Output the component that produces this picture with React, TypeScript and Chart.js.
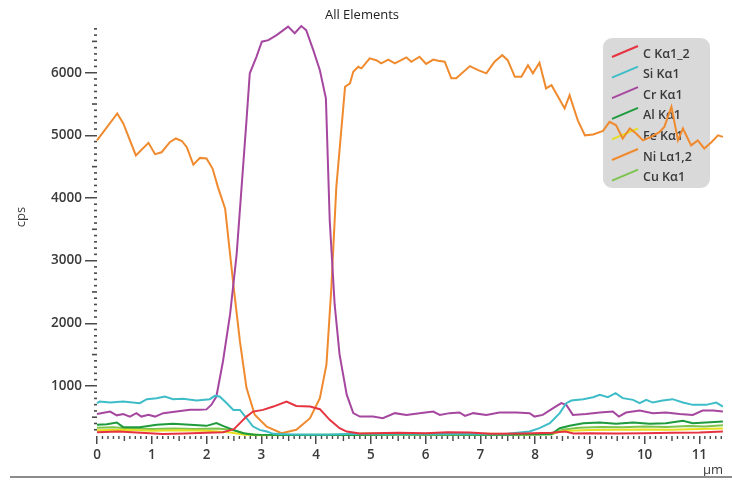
import React, { useEffect, useRef } from "react";
import { Chart, registerables } from "chart.js";

Chart.register(...registerables);

// ---- data (position in µm, counts per second) ----
const seriesNames = ["C Kα1_2", "Si Kα1", "Cr Kα1", "Al Kα1", "Fe Kα1", "Ni Lα1,2", "Cu Kα1"];
const seriesColors = ["#e63340", "#3ebdc8", "#a6479f", "#1f9b3d", "#e6df1e", "#f08a2e", "#7cc44c"];

const cProfile = [
  [0, 260], [0.4, 270], [0.8, 250], [1.2, 230], [1.6, 240], [2.0, 250], [2.3, 260], [2.5, 310],
  [2.61, 405], [2.73, 510], [2.85, 590], [3.03, 617], [3.22, 670], [3.46, 750], [3.64, 680],
  [3.89, 670], [4.07, 628], [4.25, 458], [4.43, 325], [4.56, 271], [4.8, 240], [5.5, 250],
  [6.0, 245], [6.4, 260], [6.8, 255], [7.2, 235], [7.8, 240], [8.3, 250], [8.55, 270], [8.7, 240],
  [9.0, 245], [9.5, 240], [10.0, 245], [10.5, 250], [11.0, 255], [11.43, 270],
];

const siProfile = [
  [0, 724], [0.05, 750], [0.24, 735], [0.48, 750], [0.78, 724], [0.91, 788], [1.09, 804], [1.24, 830],
  [1.39, 788], [1.57, 793], [1.82, 766], [2.06, 788], [2.15, 840], [2.24, 830], [2.37, 724],
  [2.49, 617], [2.61, 617], [2.73, 485], [2.85, 351], [2.97, 298], [3.1, 271], [3.22, 234],
  [3.6, 225], [4.2, 225], [4.6, 230], [5.5, 235], [6.5, 230], [7.5, 235], [7.9, 271], [8.08, 325],
  [8.27, 405], [8.45, 565], [8.57, 724], [8.66, 766], [8.88, 788], [9.06, 820], [9.18, 856],
  [9.33, 820], [9.47, 883], [9.6, 804], [9.79, 777], [9.91, 724], [10.03, 777], [10.15, 734],
  [10.33, 766], [10.51, 788], [10.7, 734], [10.88, 697], [11.12, 697], [11.31, 734], [11.43, 670],
];

const crProfile = [
  [0, 550], [0.24, 590], [0.36, 530], [0.48, 550], [0.6, 510], [0.72, 565], [0.81, 510], [0.94, 540],
  [1.06, 510], [1.21, 565], [1.45, 590], [1.7, 620], [1.88, 620], [2.0, 625], [2.09, 700], [2.18, 830],
  [2.3, 1390], [2.43, 2140], [2.55, 3100], [2.64, 4170], [2.73, 5240], [2.79, 5990], [2.91, 6250],
  [3.01, 6495], [3.13, 6520], [3.28, 6600], [3.49, 6735], [3.61, 6630], [3.73, 6745], [3.82, 6680],
  [3.95, 6360], [4.07, 6040], [4.18, 5590], [4.25, 3640], [4.34, 2300], [4.43, 1500], [4.56, 860],
  [4.68, 565], [4.8, 510], [5.04, 510], [5.22, 485], [5.44, 565], [5.65, 537], [5.89, 565],
  [6.14, 590], [6.26, 537], [6.44, 565], [6.62, 575], [6.72, 521], [6.87, 565], [7.11, 537],
  [7.35, 575], [7.66, 575], [7.9, 565], [7.99, 510], [8.14, 537], [8.33, 644], [8.48, 724],
  [8.57, 697], [8.69, 537], [8.93, 553], [9.18, 575], [9.42, 590], [9.53, 510], [9.66, 575],
  [9.91, 606], [10.15, 565], [10.39, 575], [10.64, 553], [10.88, 537], [11.06, 606], [11.25, 606],
  [11.43, 590],
];

const alProfile = [
  [0, 378], [0.18, 388], [0.36, 415], [0.48, 341], [0.78, 341], [1.09, 378], [1.39, 394], [1.7, 378],
  [2.0, 362], [2.18, 405], [2.3, 362], [2.49, 298], [2.67, 245], [2.85, 220], [3.5, 215], [4.5, 215],
  [5.5, 225], [6.5, 220], [7.5, 220], [8.3, 230], [8.45, 325], [8.63, 362], [8.88, 405], [9.18, 415],
  [9.48, 394], [9.79, 415], [10.09, 394], [10.39, 405], [10.7, 442], [10.88, 405], [11.12, 415],
  [11.43, 431],
];

const feProfile = [
  [0, 290], [0.5, 300], [1.0, 285], [1.5, 290], [2.0, 285], [2.4, 260], [2.7, 220], [3.0, 210],
  [4.5, 225], [4.9, 240], [5.5, 230], [6.5, 225], [7.2, 235], [7.8, 225], [8.3, 235], [8.5, 280],
  [9.0, 295], [9.5, 300], [10.0, 305], [10.5, 300], [11.0, 310], [11.43, 320],
];

const niProfile = [
  [0, 4920], [0.37, 5350], [0.48, 5190], [0.71, 4680], [0.94, 4880], [1.06, 4700], [1.18, 4730],
  [1.33, 4890], [1.44, 4950], [1.55, 4910], [1.64, 4810], [1.76, 4530], [1.88, 4640], [2.0, 4630],
  [2.11, 4470], [2.21, 4170], [2.34, 3830], [2.49, 2620], [2.61, 1710], [2.73, 970], [2.88, 540],
  [3.1, 350], [3.37, 245], [3.64, 300], [3.89, 485], [4.07, 805], [4.19, 1340], [4.28, 2570],
  [4.37, 4170], [4.53, 5775], [4.62, 5830], [4.68, 6015], [4.77, 6095], [4.83, 6070], [4.98, 6230],
  [5.1, 6200], [5.19, 6150], [5.32, 6210], [5.44, 6150], [5.65, 6245], [5.74, 6175], [5.89, 6255],
  [6.01, 6140], [6.14, 6210], [6.23, 6190], [6.35, 6175], [6.47, 5910], [6.56, 5910], [6.81, 6105],
  [6.96, 6040], [7.11, 5990], [7.26, 6175], [7.4, 6280], [7.5, 6200], [7.63, 5935], [7.75, 5935],
  [7.87, 6120], [7.96, 5990], [8.08, 6160], [8.2, 5750], [8.3, 5800], [8.42, 5615], [8.54, 5430],
  [8.63, 5640], [8.78, 5240], [8.91, 5000], [9.06, 5015], [9.24, 5070], [9.36, 5215], [9.48, 5160],
  [9.6, 4950], [9.73, 5110], [9.85, 5025], [9.97, 4920], [10.12, 4975], [10.27, 5050], [10.36, 5135],
  [10.49, 5455], [10.61, 4920], [10.7, 5110], [10.85, 4840], [10.97, 4920], [11.09, 4790],
  [11.22, 4890], [11.34, 5000], [11.43, 4975],
];

const cuProfile = [
  [0, 330], [0.3, 340], [0.6, 320], [1.0, 310], [1.4, 320], [1.8, 310], [2.2, 320], [2.45, 300],
  [2.7, 240], [3.0, 215], [4.5, 215], [5.5, 225], [6.5, 225], [7.5, 220], [8.3, 225], [8.5, 300],
  [8.8, 330], [9.2, 345], [9.6, 340], [10.0, 350], [10.4, 345], [10.8, 360], [11.1, 350], [11.43, 370],
];

const profiles = [cProfile, siProfile, crProfile, alProfile, feProfile, niProfile, cuProfile];

const yTickValues = [1000, 2000, 3000, 4000, 5000, 6000];
const xTickValues = [0, 1, 2, 3, 4, 5, 6, 7, 8, 9, 10, 11];
const chartTitle = "All Elements";
const yUnit = "cps";
const xUnit = "µm";

const FONT = "'Open Sans', 'DejaVu Sans', sans-serif";

const decorPlugin = {
  id: "decor",
  beforeDatasetsDraw(chart: any) {
    const ctx = chart.ctx;
    ctx.save();
    // legend panel
    ctx.fillStyle = "#d9d9d9";
    ctx.beginPath();
    ctx.roundRect(603, 38, 107, 150, 9);
    ctx.fill();
    ctx.font = `600 12.5px ${FONT}`;
    ctx.textBaseline = "middle";
    ctx.textAlign = "left";
    chart.data.datasets.forEach((ds: any, i: number) => {
      const yc = 53 + i * 20.6;
      ctx.strokeStyle = ds.borderColor;
      ctx.lineWidth = 2;
      ctx.beginPath();
      ctx.moveTo(612, yc + 4);
      ctx.lineTo(638, yc - 7);
      ctx.stroke();
      ctx.fillStyle = "#3a3a3a";
      ctx.fillText(ds.label, 643, yc + 1);
    });
    ctx.restore();
  },
  afterDraw(chart: any) {
    const ctx = chart.ctx;
    const { chartArea } = chart;
    const xs = chart.scales.x;
    const ys = chart.scales.y;
    ctx.save();
    ctx.fillStyle = "#4a4a4a";
    // y minor ticks
    for (let v = 300; v <= 6700; v += 100) {
      if (v % 1000 === 0) continue;
      const py = ys.getPixelForValue(v);
      const len = v % 500 === 0 ? 5 : 3;
      ctx.fillRect(chartArea.left - len, py - 0.8, len, 1.6);
    }
    // x minor ticks
    for (let i = 0; i <= 114; i++) {
      if (i % 10 === 0) continue;
      const px = xs.getPixelForValue(i / 10);
      const len = i % 5 === 0 ? 5 : 3;
      ctx.fillRect(px - 0.7, chartArea.bottom, 1.4, len);
    }
    // units
    ctx.fillStyle = "#3a3a3a";
    ctx.font = `13px ${FONT}`;
    ctx.textAlign = "center";
    ctx.textBaseline = "middle";
    ctx.save();
    ctx.translate(21, 217);
    ctx.rotate(-Math.PI / 2);
    ctx.fillText(yUnit, 0, 0);
    ctx.restore();
    ctx.textAlign = "right";
    ctx.fillText(xUnit, 723, 470);
    // bottom rule
    ctx.fillStyle = "#8c8c8c";
    ctx.fillRect(10, 476, 722, 2);
    ctx.restore();
  },
};

export default function App() {
  const canvasRef = useRef<HTMLCanvasElement | null>(null);

  useEffect(() => {
    document.body.style.margin = "0";
    const canvas = canvasRef.current;
    if (!canvas) return;
    Chart.defaults.font.family = FONT;

    const chart = new Chart(canvas, {
      type: "line",
      data: {
        datasets: seriesNames.map((name, i) => ({
          label: name,
          data: profiles[i].map(([x, y]) => ({ x, y })),
          borderColor: seriesColors[i],
          backgroundColor: seriesColors[i],
          borderWidth: 2,
          pointRadius: 0,
          tension: 0,
          fill: false,
        })),
      },
      options: {
        animation: false,
        responsive: false,
        clip: false as any,
        layout: { padding: { left: 0, right: 8, top: 0, bottom: 0 } },
        plugins: {
          legend: { display: false },
          tooltip: { enabled: false },
          title: {
            display: true,
            text: chartTitle,
            color: "#222",
            font: { size: 13, weight: "normal" as any, family: FONT },
            padding: { top: 7, bottom: 5 },
          },
        },
        scales: {
          x: {
            type: "linear",
            min: 0,
            max: 11.45,
            afterFit: (s: any) => { s.height = 45; },
            afterBuildTicks: (s: any) => { s.ticks = xTickValues.map((v) => ({ value: v })); },
            border: { display: false },
            grid: {
              display: true,
              drawOnChartArea: false,
              drawTicks: true,
              tickLength: 8,
              color: "#4a4a4a",
              lineWidth: 1.5,
            },
            ticks: {
              autoSkip: false,
              maxRotation: 0,
              padding: 3,
              color: "#3a3a3a",
              font: { size: 13.5, weight: "600" as any, family: FONT },
              callback: (v: any) => String(v),
            },
          },
          y: {
            type: "linear",
            min: 200,
            max: 6720,
            afterFit: (s: any) => { s.width = 97; },
            afterBuildTicks: (s: any) => { s.ticks = yTickValues.map((v) => ({ value: v })); },
            border: { display: false },
            grid: {
              display: true,
              drawOnChartArea: false,
              drawTicks: true,
              tickLength: 12,
              color: "#4a4a4a",
              lineWidth: 1.5,
            },
            ticks: {
              autoSkip: false,
              padding: 3,
              color: "#3a3a3a",
              font: { size: 13.5, weight: "600" as any, family: FONT },
              callback: (v: any) => String(v),
            },
          },
        },
      },
      plugins: [decorPlugin],
    });

    return () => chart.destroy();
  }, []);

  return (
    <div style={{ width: 732, height: 481, background: "#fff" }}>
      <canvas ref={canvasRef} width={732} height={481} style={{ display: "block" }} />
    </div>
  );
}
